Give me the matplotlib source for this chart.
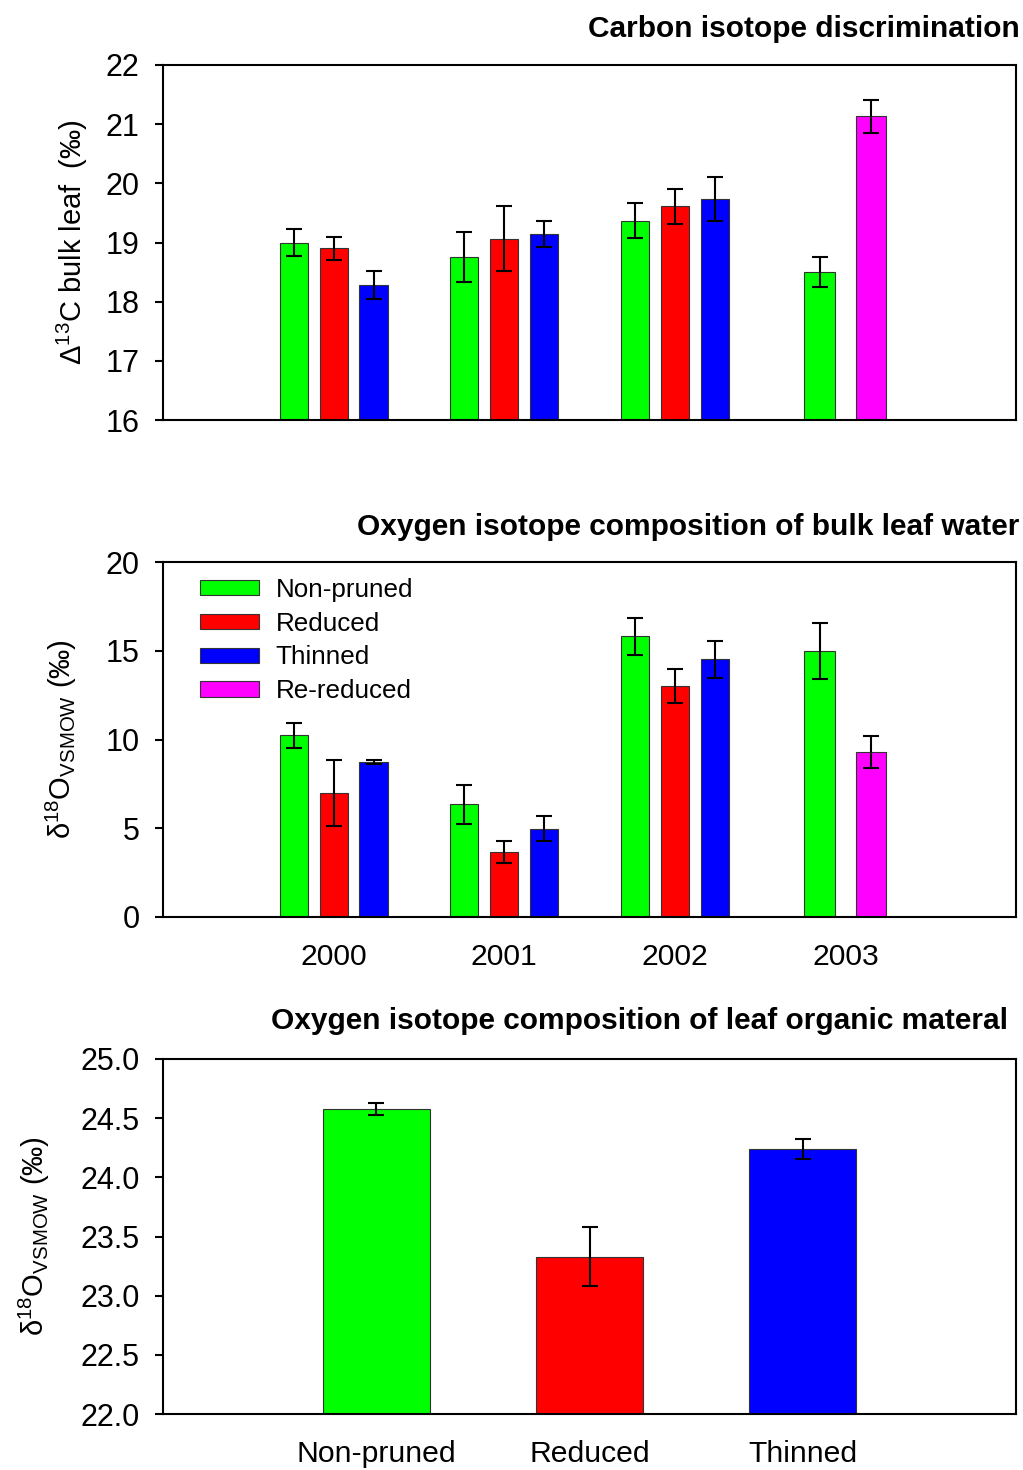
import numpy as np
import matplotlib.pyplot as plt

plt.rcParams['font.family'] = ['Liberation Sans', 'DejaVu Sans']
plt.rcParams['mathtext.fontset'] = 'custom'
plt.rcParams['mathtext.rm'] = 'Liberation Sans'
plt.rcParams['mathtext.it'] = 'Liberation Sans:italic'
plt.rcParams['mathtext.default'] = 'regular'

years = ['2000', '2001', '2002', '2003']
treatments = ['Non-pruned', 'Reduced', 'Thinned', 'Re-reduced']
colors = {'Non-pruned': '#00ff00', 'Reduced': '#ff0000',
          'Thinned': '#0000ff', 'Re-reduced': '#ff00ff'}

# carbon isotope discrimination (per mil), 2000-2002: non-pruned, reduced, thinned
d13c_np = [19.0, 18.75, 19.37, 18.50]
d13c_np_err = [0.22, 0.42, 0.30, 0.25]
d13c_red = [18.90, 19.06, 19.61]
d13c_red_err = [0.20, 0.55, 0.30]
d13c_thin = [18.28, 19.14, 19.73]
d13c_thin_err = [0.23, 0.22, 0.37]
d13c_rered = 21.13
d13c_rered_err = 0.28

# oxygen isotope composition of bulk leaf water
d18w_np = [10.24, 6.35, 15.81, 15.0]
d18w_np_err = [0.70, 1.10, 1.03, 1.57]
d18w_red = [6.97, 3.66, 13.0]
d18w_red_err = [1.86, 0.62, 0.97]
d18w_thin = [8.72, 4.97, 14.52]
d18w_thin_err = [0.12, 0.71, 1.03]
d18w_rered = 9.31
d18w_rered_err = 0.90

# oxygen isotope composition of leaf organic material
org_labels = ['Non-pruned', 'Reduced', 'Thinned']
org_vals = [24.58, 23.33, 24.24]
org_err = [0.05, 0.25, 0.085]

fig = plt.figure(figsize=(10.23, 14.7), dpi=100)
W, H = 1023, 1470
left, width = 163 / W, 853 / W
ax1 = fig.add_axes([left, 1 - 420 / H, width, 355 / H])
ax2 = fig.add_axes([left, 1 - 917 / H, width, 355 / H])
ax3 = fig.add_axes([left, 1 - 1414 / H, width, 355 / H])

bw = 0.165
off = 0.234
bw3 = 0.18
off3 = 0.15
ekw = dict(ecolor='black', elinewidth=1.5, capsize=5.5, capthick=1.5)
edge = dict(edgecolor='#333333', linewidth=0.8)


def grouped(ax, np_v, np_e, red_v, red_e, thin_v, thin_e, rr_v, rr_e):
    x = np.arange(1, 4)
    ax.bar(x - off, np_v[:3], bw, yerr=np_e[:3], color=colors['Non-pruned'],
           error_kw=ekw, label='Non-pruned', **edge)
    ax.bar(x, red_v, bw, yerr=red_e, color=colors['Reduced'],
           error_kw=ekw, label='Reduced', **edge)
    ax.bar(x + off, thin_v, bw, yerr=thin_e, color=colors['Thinned'],
           error_kw=ekw, label='Thinned', **edge)
    ax.bar(4 - off3, np_v[3], bw3, yerr=np_e[3], color=colors['Non-pruned'],
           error_kw=ekw, **edge)
    ax.bar(4 + off3, rr_v, bw3, yerr=rr_e, color=colors['Re-reduced'],
           error_kw=ekw, label='Re-reduced', **edge)
    ax.set_xlim(0, 5)


grouped(ax1, d13c_np, d13c_np_err, d13c_red, d13c_red_err,
        d13c_thin, d13c_thin_err, d13c_rered, d13c_rered_err)
grouped(ax2, d18w_np, d18w_np_err, d18w_red, d18w_red_err,
        d18w_thin, d18w_thin_err, d18w_rered, d18w_rered_err)

ax3.bar(np.arange(1, 4), org_vals, 0.5, yerr=org_err,
        color=[colors[t] for t in org_labels], error_kw=ekw, **edge)
ax3.set_xlim(0, 4)

ax1.set_ylim(16, 22)
ax1.set_yticks(range(16, 23))
ax1.set_xticks([])
ax2.set_ylim(0, 20)
ax2.set_yticks(range(0, 21, 5))
ax2.set_xticks(range(1, 5))
ax2.set_xticklabels(years)
ax3.set_ylim(22, 25)
ax3.set_yticks(np.arange(22, 25.01, 0.5))
ax3.set_yticklabels(['%.1f' % v for v in np.arange(22, 25.01, 0.5)])
ax3.set_xticks(range(1, 4))
ax3.set_xticklabels(org_labels)

for ax in (ax1, ax2, ax3):
    for s in ax.spines.values():
        s.set_linewidth(1.5)
    ax.tick_params(axis='y', direction='out', length=6, width=1.5,
                   pad=11, labelsize=22)
    ax.tick_params(axis='x', length=0, pad=18.8, labelsize=21.7)

ax1.set_ylabel(r'$\Delta^{13}$C bulk leaf  (‰)', fontsize=21)
ax2.set_ylabel(r'$\delta^{18}O_{VSMOW}$ (‰)', fontsize=21)
ax3.set_ylabel(r'$\delta^{18}O_{VSMOW}$ (‰)', fontsize=21)
ax1.yaxis.set_label_coords((90 - 163) / 853, 0.5)
ax2.yaxis.set_label_coords((79 - 163) / 853, 0.5)
ax3.yaxis.set_label_coords((52 - 163) / 853, 0.5)

handles, labels = ax2.get_legend_handles_labels()
ax2.legend(handles, labels, loc='upper left', bbox_to_anchor=(0.031, 0.985),
           frameon=False, fontsize=18.7, handlelength=2.27, handleheight=0.54,
           handletextpad=0.65, labelspacing=0.38, borderaxespad=0)

fig.text(1020 / W, 1 - 29 / H, 'Carbon isotope discrimination',
         ha='right', va='center', fontsize=21.5, fontweight='bold')
fig.text(1019 / W, 1 - 527 / H, 'Oxygen isotope composition of bulk leaf water',
         ha='right', va='center', fontsize=21.5, fontweight='bold')
fig.text(1008 / W, 1 - 1021 / H, 'Oxygen isotope composition of leaf organic materal',
         ha='right', va='center', fontsize=21.5, fontweight='bold')

fig.savefig('out.png', dpi=100)
